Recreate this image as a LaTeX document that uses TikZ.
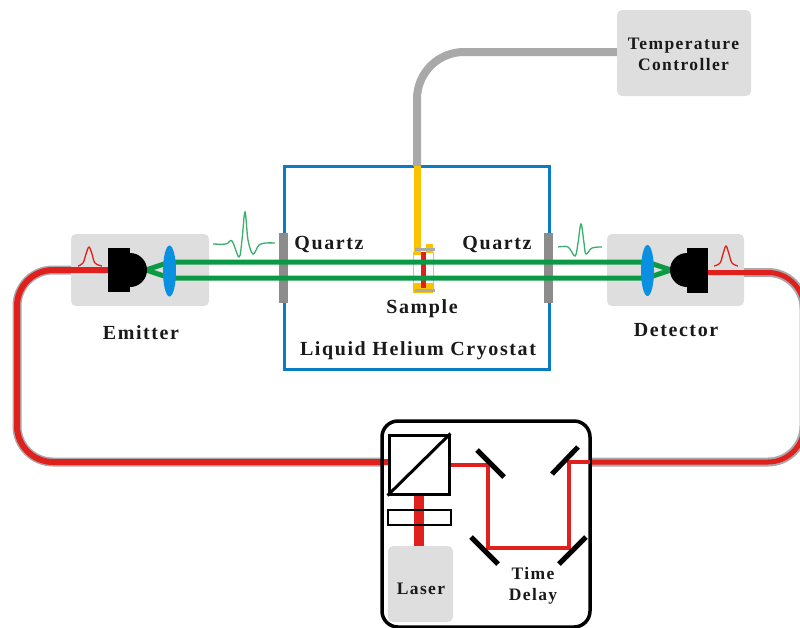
\documentclass[tikz,border=0pt]{standalone}
\usepackage{fontspec}
\setmainfont[LetterSpace=8]{Liberation Serif}
\usetikzlibrary{shapes.geometric}
\definecolor{panelgray}{HTML}{DEDEDE}
\definecolor{cablegray}{HTML}{A9A9A9}
\definecolor{quartzgray}{HTML}{8C8C8C}
\definecolor{beamred}{HTML}{E0201C}
\definecolor{beamgreen}{HTML}{0A9A44}
\definecolor{cryoblue}{HTML}{0A7CC4}
\definecolor{lensblue}{HTML}{0A90E0}
\definecolor{rodyellow}{HTML}{FCC200}

\begin{document}
\begin{tikzpicture}[x=1pt, y=-1pt,
  every node/.style = {inner sep=0pt, align=center, font=\fontsize{17.5}{21}\selectfont\bfseries, text=black!90},
  biglabel/.style = {font=\fontsize{20}{24}\selectfont\bfseries},
  panel/.style = {fill=panelgray, rounded corners=5pt},
  dome/.style = {shape=circle, fill=black, minimum size=34pt},
  body/.style = {fill=black, minimum width=22pt, minimum height=44pt},
  lens/.style = {shape=ellipse, fill=lensblue, minimum width=13pt, minimum height=51pt},
  quartz/.style = {fill=quartzgray, minimum width=9pt, minimum height=70pt},
  fibergray/.style = {draw=cablegray, line width=9pt, rounded corners=36pt},
  fiberred/.style = {draw=beamred, line width=6pt, rounded corners=36pt},
  beam/.style = {draw=beamred, line width=4pt},
  ray/.style = {draw=beamgreen, line width=5pt},
  mirror/.style = {draw=black, line width=5pt},
  pulse/.style = {line width=1.3pt}]
  \useasboundingbox (0,0) rectangle (800,627);

  \node[panel, minimum width=134pt, minimum height=86pt] (controller) at (684,53) {};
  \node[panel, minimum width=138pt, minimum height=72pt] (emitterbox) at (140,270) {};
  \node[panel, minimum width=137pt, minimum height=72pt] (detectorbox) at (675.5,270) {};
  \node[draw=cryoblue, line width=3pt, minimum width=265pt, minimum height=203pt] (cryostat) at (416.5,267.5) {};

  % cable and rod
  \coordinate (cabletop) at (417,166);
  \draw[draw=cablegray, line width=8pt, rounded corners=47pt] (controller.west |- 0,52) -- (417,52) -- (cabletop);
  \coordinate (rodend) at (417,255);
  \draw[draw=rodyellow, line width=7pt] (cabletop) -- (rodend);

  % sample holder
  \node[draw=rodyellow, line width=0.4pt, minimum width=20pt, minimum height=36pt] (holder) at (423,270) {};
  \node[fill=rodyellow, minimum width=7pt, minimum height=8pt] (clamp) at (429.5,248) {};
  \node[fill=rodyellow, minimum width=20pt, minimum height=10pt] (foot) at (423,288) {};
  \node[fill=beamred, minimum width=5pt, minimum height=36pt] (sample) at (423,270) {};
  \node[fill=cablegray, minimum width=20pt, minimum height=3pt] (screwtop) at (425,249) {};
  \node[fill=cablegray, minimum width=20pt, minimum height=3pt] (screwbottom) at (424.5,290.5) {};

  \node[quartz] (quartzleft) at (283.5,268) {};
  \node[quartz] (quartzright) at (548.5,268) {};

  % fibers
  \coordinate (emitterin) at (108,270);
  \coordinate (detectorout) at (708,272.5);
  \coordinate (fiberleft) at (383,462);
  \coordinate (fiberright) at (590,462);
  \coordinate (splitter) at (389,462);
  \coordinate (mirrorout) at (569,462);
  \draw[fibergray] (emitterbox.west) -- (17,270) -- (17,462) -- (fiberleft);
  \draw[fiberred] (emitterin) -- (17,270) -- (17,462) -- (splitter);
  \draw[fibergray] (detectorbox.east |- detectorout) -- (804,272.5) -- (804,462) -- (fiberright);
  \draw[fiberred, line width=5pt] (detectorout) -- (804,272.5) -- (804,462) -- (fiberright);

  % terahertz rays
  \coordinate (focusleft) at (146,270);
  \coordinate (focusright) at (671,270);
  \coordinate (lensAtop) at (170,262);
  \coordinate (lensAbottom) at (170,278);
  \coordinate (lensBtop) at (647,262);
  \coordinate (lensBbottom) at (647,278);
  \draw[ray] (focusleft) -- (lensAtop) -- (lensBtop) -- (focusright);
  \draw[ray] (focusleft) -- (lensAbottom) -- (lensBbottom) -- (focusright);
  \node[lens] (lensleft) at (169.5,271) {};
  \node[lens] (lensright) at (647.5,270.5) {};
  \node[dome] (emitterdome) at (130,270) {};
  \node[body] (emitterbody) at (119,270) {};
  \node[dome] (detectordome) at (687,270) {};
  \node[body, minimum width=21pt, minimum height=45pt] (detectorbody) at (697.5,270.5) {};

  % pulses
  \draw[pulse, beamred] plot[smooth, tension=0.6] coordinates {(78,266) (83,263) (86,254) (89,247) (92,254) (95,263) (102,266)};
  \draw[pulse, beamred] plot[smooth, tension=0.6] coordinates {(714,266) (720,263) (723,254) (726,246) (729,254) (732,263) (738,266)};
  \draw[pulse, beamgreen!80!white] plot[smooth, tension=0.6] coordinates {(213,244) (226,244) (232,241) (239,257) (242,240) (245,212) (248,240) (253,254) (259,245) (266,243) (275,243)};
  \draw[pulse, beamgreen!80!white] plot[smooth, tension=0.6] coordinates {(558,247) (568,247) (575,256) (578,243) (581,224) (584,243) (586,254) (592,248) (602,247)};

  % laser and delay line
  \node[draw=black, line width=3.5pt, rounded corners=16pt, minimum width=208pt, minimum height=206pt] (labbox) at (486,524) {};
  \node[panel, minimum width=65pt, minimum height=76pt] (laser) at (420.5,584) {};
  \node[draw=black, line width=3pt, minimum width=60pt, minimum height=59pt] (cube) at (419,464.5) {};
  \draw[draw=black, line width=3pt] (cube.south west) -- (cube.north east);
  \draw[draw=beamred, line width=10pt] (cube.south) -- (cube.south |- laser.north);
  \node[draw=black, line width=2.5pt, minimum width=63pt, minimum height=15pt] (plate) at (419.5,517.5) {};

  \coordinate (mirrorA) at (488,465);
  \coordinate (mirrorB) at (488,548);
  \coordinate (mirrorC) at (569,548);
  \draw[beam] (cube.east |- mirrorA) -- (mirrorA) -- (mirrorB) -- (mirrorC) -- (mirrorout) -- (fiberright);
  \draw[mirror] (477,450) -- (504,477);
  \draw[mirror] (578,447) -- (552,474);
  \draw[mirror] (471,537) -- (498,564);
  \draw[mirror] (586,537) -- (559,564);

  % labels
  \node (controllerlabel) at (683.5,54) {Temperature\\Controller};
  \node (laserlabel) at (421,589) {Laser};
  \node[biglabel] (emitterlabel) at (141,333) {Emitter};
  \node[biglabel] (detectorlabel) at (676,330) {Detector};
  \node[biglabel] (samplelabel) at (422,309) {Sample};
  \node[biglabel] (cryostatlabel) at (418,351) {Liquid Helium Cryostat};
  \node[biglabel] (quartzlabelleft) at (329,244) {Quartz};
  \node[biglabel] (quartzlabelright) at (497,244) {Quartz};
  \node (delaylabel) at (533,586) {Time\\Delay};
\end{tikzpicture}
\end{document}
